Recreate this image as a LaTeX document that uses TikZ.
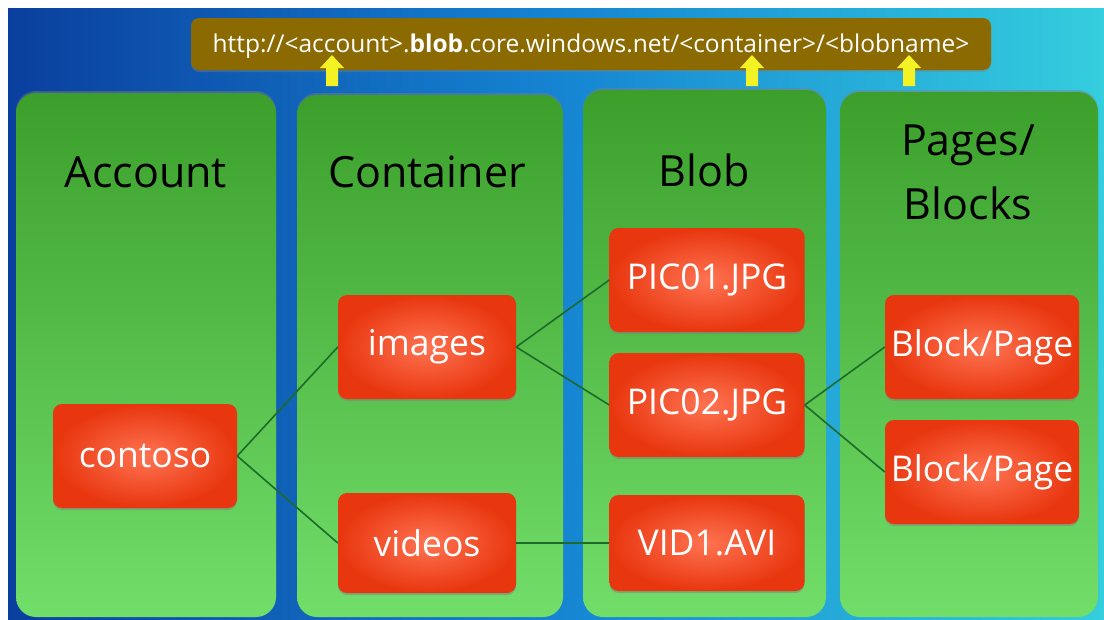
\documentclass[tikz,border=0pt]{standalone}
\usepackage{fontspec}
\setmainfont{Open Sans}
\usetikzlibrary{shadows}
\definecolor{bgL}{HTML}{0A3F9E}
\definecolor{bgM}{HTML}{1584D2}
\definecolor{bgR}{HTML}{34CEDE}
\definecolor{panTop}{HTML}{3C9F2C}
\definecolor{panBot}{HTML}{72DE6A}
\definecolor{redIn}{HTML}{FF7352}
\definecolor{redOut}{HTML}{E8360E}
\definecolor{urlBar}{HTML}{8C6A02}
\definecolor{wire}{HTML}{1D6B2A}
\definecolor{pointer}{HTML}{F2F224}
\tikzset{
  panel/.style={rounded corners=20pt, top color=panTop, bottom color=panBot,
    draw=none, drop shadow={shadow xshift=0pt, shadow yshift=2pt, opacity=0.45},
    inner sep=0pt},
  paneltitle/.style={font=\fontsize{43}{64}\selectfont, text=black, align=center},
  item/.style={rounded corners=9pt, inner color=redIn, outer color=redOut,
    minimum width=190pt, minimum height=104pt, text=white,
    font=\fontsize{35.5}{40}\selectfont, inner sep=2pt,
    drop shadow={shadow xshift=0pt, shadow yshift=-2pt, opacity=0.5}},
  wireline/.style={draw=wire, line width=1.6pt},
  upmark/.style={fill=pointer, draw=none}
}
\begin{document}
\begin{tikzpicture}[x=1pt,y=-1pt]
\useasboundingbox (0,0) rectangle (1104,619);
\fill[white] (0,0) rectangle (1104,619);
% backdrop
\shade[left color=bgL, right color=bgR, middle color=bgM] (8,8) rectangle (1104,619);

% address bar
\node[fill=urlBar, rounded corners=8pt, minimum width=800pt, minimum height=52pt,
  drop shadow={shadow xshift=0pt, shadow yshift=-2pt, opacity=0.4}] (bar) at (591,44) {};
\node[text=white, font=\fontsize{24.5}{28}\selectfont] (url) at (591,46)
  {http://<account>.\textbf{blob}.core.windows.net/<container>/<blobname>};

% columns
\node[panel, minimum width=260pt, minimum height=524pt] (pAcc) at (146,355) {};
\node[panel, minimum width=266pt, minimum height=522pt] (pCon) at (430,356) {};
\node[panel, minimum width=243pt, minimum height=527pt] (pBlob) at (704.5,353.5) {};
\node[panel, minimum width=258pt, minimum height=525pt] (pPag) at (969,354.5) {};

% pointers from the address to the columns
\foreach \px in {332,752,909}{
  \fill[upmark] (\px,55) -- (\px+12,68) -- (\px+6,68) -- (\px+6,86)
    -- (\px-6,86) -- (\px-6,68) -- (\px-12,68) -- cycle;
}

% column titles
\node[paneltitle] (tAcc) at (146,172) {Account};
\node[paneltitle] (tCon) at (427,172) {Container};
\node[paneltitle] (tBlob) at (704,170) {Blob};
\node[paneltitle] (tPag) at (968,172) {Pages/\\Blocks};

% items
\node[item, minimum width=184pt] (contoso) at (145,456) {contoso};
\node[item, minimum width=178pt] (images) at (427,347) {images};
\node[item, minimum width=178pt, minimum height=100pt] (videos) at (427,543) {videos};
\node[item, minimum width=195pt] (pic1) at (707,280) {PIC01.JPG};
\node[item, minimum width=195pt] (pic2) at (707,405) {PIC02.JPG};
\node[item, minimum width=195pt, minimum height=96pt] (vid1) at (707,543) {VID1.AVI};
\node[item, minimum width=194pt] (blk1) at (982,347) {Block/Page};
\node[item, minimum width=194pt] (blk2) at (982,472) {Block/Page};

% links
\draw[wireline] (contoso.east) -- (images.west);
\draw[wireline] (contoso.east) -- (videos.west);
\draw[wireline] (images.east) -- (pic1.west);
\draw[wireline] (images.east) -- (pic2.west);
\draw[wireline] (videos.east) -- (vid1.west);
\draw[wireline] (pic2.east) -- (blk1.west);
\draw[wireline] (pic2.east) -- (blk2.west);
\end{tikzpicture}
\end{document}
